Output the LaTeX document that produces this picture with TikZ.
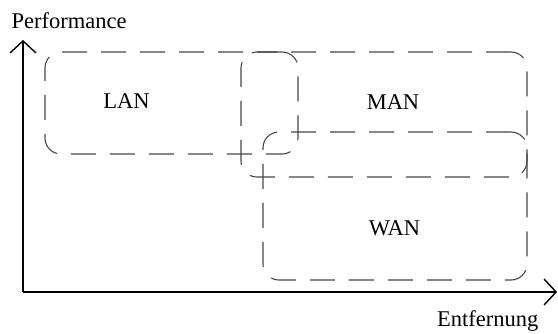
\documentclass[tikz,border=0pt]{standalone}
\usepackage{fontspec}
\setmainfont{Liberation Serif}
\usetikzlibrary{arrows.meta}
\begin{document}
\begin{tikzpicture}[x=1pt,y=-1pt,
  netbox/.style={draw=black!72, line width=1.1pt, dash pattern=on 25pt off 14pt,
    rounded corners=16pt, rectangle, inner sep=0pt, outer sep=0pt},
  axis/.style={line width=1.8pt, -{Straight Barb[length=12pt,width=26pt,line width=1.4pt]}},
  lbl/.style={inner sep=0pt, font=\fontsize{22.5}{26}\selectfont},
]
\useasboundingbox (0,0) rectangle (558,333);

% network ranges
\node[netbox, minimum width=253pt, minimum height=102pt] (lanbox) at (171.5,103) {};
\node[netbox, minimum width=286pt, minimum height=125pt] (manbox) at (384,114.5) {};
\node[netbox, minimum width=264pt, minimum height=148pt] (wanbox) at (395,206) {};

\node[lbl, anchor=base] (lan) at (126.5,108) {LAN};
\node[lbl, anchor=base] (man) at (393,109) {MAN};
\node[lbl, anchor=base] (wan) at (394.5,235) {WAN};

% axes
\coordinate (origin) at (23,292);
\coordinate (ytip) at (23,40);
\coordinate (xtip) at (557,292);
\draw[axis] (origin) -- (ytip);
\draw[axis] (origin) -- (xtip);

\node[lbl, anchor=base west] (perf) at (11.5,28) {Performance};
\node[lbl, anchor=base west] (dist) at (437,326) {Entfernung};
\end{tikzpicture}
\end{document}
